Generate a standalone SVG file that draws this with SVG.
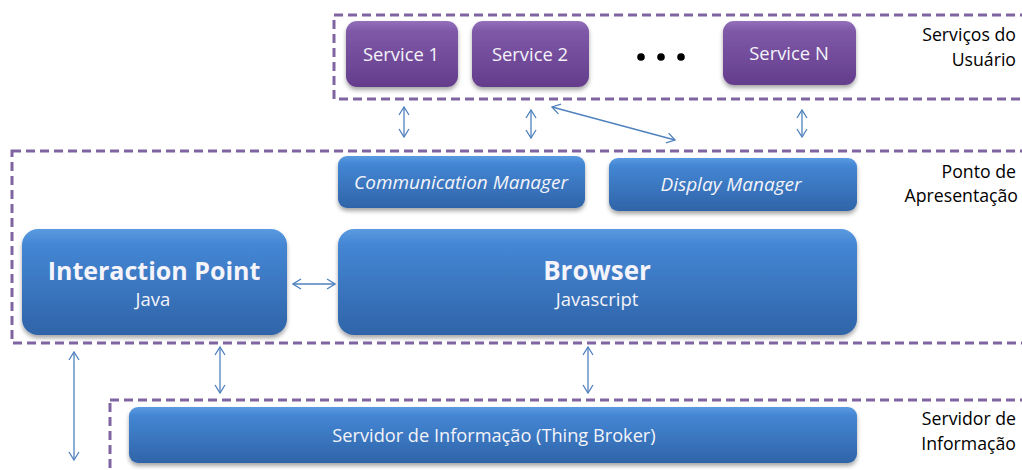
<svg xmlns="http://www.w3.org/2000/svg" width="1022" height="470" viewBox="0 0 1022 470">
<defs>
<linearGradient id="gBlue" x1="0" y1="0" x2="0" y2="1">
<stop offset="0" stop-color="#5a9ae0"/>
<stop offset="0.15" stop-color="#4486d4"/>
<stop offset="1" stop-color="#2f64a8"/>
</linearGradient>
<linearGradient id="gPurple" x1="0" y1="0" x2="0" y2="1">
<stop offset="0" stop-color="#9470ba"/>
<stop offset="0.15" stop-color="#7f59a8"/>
<stop offset="1" stop-color="#643d8c"/>
</linearGradient>
<filter id="sh" x="-10%" y="-20%" width="120%" height="150%">
<feDropShadow dx="0" dy="3" stdDeviation="2" flood-color="#000" flood-opacity="0.35"/>
</filter>
<marker id="ah" viewBox="0 0 10 12" refX="9" refY="6" markerWidth="10" markerHeight="12" markerUnits="userSpaceOnUse" orient="auto-start-reverse">
<path d="M1,1 L9,6 L1,11" fill="none" stroke="#4f81bd" stroke-width="1.3"/>
</marker>
</defs>
<style>
.zone{fill:none;stroke:#8064a2;stroke-width:3;stroke-dasharray:9 5}
.blue{fill:url(#gBlue);filter:url(#sh)}
.purple{fill:url(#gPurple);filter:url(#sh)}
.t{font-family:"Open Sans","Liberation Sans",sans-serif;fill:#f4f4fa;text-anchor:middle}
.lbl{font-family:"Open Sans","Liberation Sans",sans-serif;fill:#000;font-size:17.7px;text-anchor:end}
.con{fill:none;stroke:#4f81bd;stroke-width:1.3;marker-start:url(#ah);marker-end:url(#ah)}
</style>
<rect width="1022" height="470" fill="#fff"/>

<g id="zones">
<rect class="zone" x="334" y="15" width="700" height="84"/>
<rect class="zone" x="12" y="151" width="1022" height="192"/>
<rect class="zone" x="110" y="400" width="924" height="90"/>
</g>

<g id="labels">
<text class="lbl" x="1016" y="41">Serviços do</text>
<text class="lbl" x="1016" y="66">Usuário</text>
<text class="lbl" x="1016" y="178">Ponto de</text>
<text class="lbl" x="1018" y="202">Apresentação</text>
<text class="lbl" x="1016" y="425">Servidor de</text>
<text class="lbl" x="1016" y="450">Informação</text>
</g>

<g id="service1">
<rect class="purple" x="346" y="21" width="112" height="66" rx="11"/>
<text class="t" x="401" y="61" font-size="18.4">Service 1</text>
</g>
<g id="service2">
<rect class="purple" x="472" y="21" width="117" height="66" rx="11"/>
<text class="t" x="530" y="61" font-size="18.4">Service 2</text>
</g>
<g id="dots">
<circle cx="641" cy="57" r="3.8" fill="#000"/>
<circle cx="661" cy="57" r="3.8" fill="#000"/>
<circle cx="681" cy="57" r="3.8" fill="#000"/>
</g>
<g id="serviceN">
<rect class="purple" x="723" y="21" width="133" height="64" rx="11"/>
<text class="t" x="789" y="60" font-size="18.4">Service N</text>
</g>

<g id="commManager">
<rect class="blue" x="338" y="156" width="247" height="52" rx="9"/>
<text class="t" x="461" y="189" font-size="19" font-style="italic">Communication Manager</text>
</g>
<g id="displayManager">
<rect class="blue" x="609" y="158" width="248" height="53" rx="9"/>
<text class="t" x="731" y="191" font-size="19" font-style="italic">Display Manager</text>
</g>
<g id="interactionPoint">
<rect class="blue" x="22" y="229" width="265" height="106" rx="16"/>
<text class="t" x="154" y="280" font-size="25" font-weight="bold">Interaction Point</text>
<text class="t" x="153" y="306" font-size="18.5">Java</text>
</g>
<g id="browser">
<rect class="blue" x="338" y="229" width="519" height="106" rx="16"/>
<text class="t" x="597" y="280" font-size="26" font-weight="bold">Browser</text>
<text class="t" x="597" y="306" font-size="18.5">Javascript</text>
</g>
<g id="thingBroker">
<rect class="blue" x="129" y="407" width="728" height="56" rx="9"/>
<text class="t" x="494" y="442" font-size="18.2">Servidor de Informação (Thing Broker)</text>
</g>

<g id="connectors">
<line class="con" x1="404" y1="107" x2="404" y2="137"/>
<line class="con" x1="531" y1="110" x2="531" y2="138"/>
<line class="con" x1="552" y1="107" x2="675" y2="140"/>
<line class="con" x1="802" y1="110" x2="802" y2="137"/>
<line class="con" x1="293" y1="284" x2="335" y2="284"/>
<line class="con" x1="74" y1="352" x2="74" y2="460"/>
<line class="con" x1="220" y1="347" x2="220" y2="393"/>
<line class="con" x1="588" y1="347" x2="588" y2="393"/>
</g>
</svg>
